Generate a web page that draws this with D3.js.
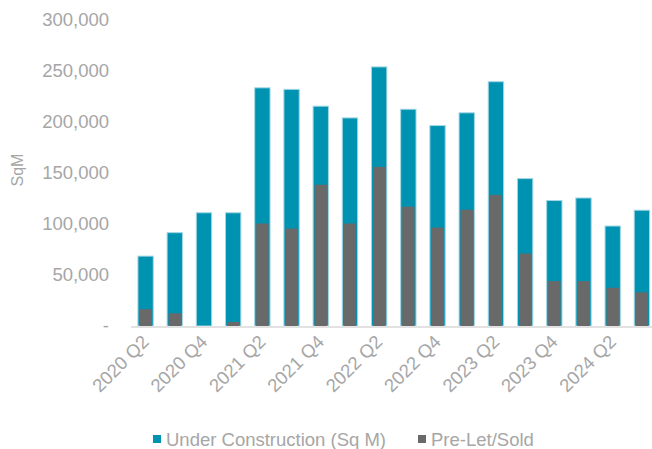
<!DOCTYPE html>
<html>
<head>
<meta charset="utf-8">
<script src="https://cdn.jsdelivr.net/npm/d3@7.8.5/dist/d3.min.js"></script>
<style>
  html, body { margin: 0; padding: 0; background: #fff; }
  svg { display: block; font-family: "Liberation Sans", Arial, sans-serif; }
</style>
</head>
<body>
<div id="chart"></div>
<script>
const quarters = [
  "2020 Q2", "2020 Q3", "2020 Q4", "2021 Q1", "2021 Q2", "2021 Q3", "2021 Q4",
  "2022 Q1", "2022 Q2", "2022 Q3", "2022 Q4", "2023 Q1", "2023 Q2", "2023 Q3",
  "2023 Q4", "2024 Q1", "2024 Q2", "2024 Q3"
]
const underConstruction = [
  69000, 92000, 111500, 111500, 234000, 232500, 216000, 204500, 254500,
  213000, 197000, 209500, 240000, 145000, 123500, 126000, 98500, 114000
]
const preLet = [
  16500, 12500, 0, 4000, 100500, 95500, 138500, 100500, 156000,
  117000, 96500, 114000, 128500, 71000, 44000, 44000, 37500, 33000
]
const yTicks = [0, 50000, 100000, 150000, 200000, 250000, 300000]
const shownLabels = ["2020 Q2", "2020 Q4", "2021 Q2", "2021 Q4", "2022 Q2", "2022 Q4", "2023 Q2", "2023 Q4", "2024 Q2"]
const seriesNames = ["Under Construction (Sq M)", "Pre-Let/Sold"]

const width = 652, height = 449
const colors = { uc: "#0093b1", ucEdge: "#a3d6e3", pre: "#696969", text: "#a6a6a6", axis: "#e2e2e2" }
const fontSize = 18.5

const svg = d3.select("#chart").append("svg")
  .attr("width", width)
  .attr("height", height)

const x = d3.scaleBand()
  .domain(quarters)
  .range([131, 656.5])
  .paddingInner(0.44)
  .paddingOuter(0.22)

const y = d3.scaleLinear()
  .domain([0, 300000])
  .range([326, 20])

// y tick labels
svg.append("g")
  .selectAll("text")
  .data(yTicks)
  .join("text")
    .attr("x", 109)
    .attr("y", d => y(d))
    .attr("dy", "0.35em")
    .attr("text-anchor", "end")
    .attr("fill", colors.text)
    .attr("font-size", fontSize)
    .text(d => d === 0 ? "-" : d3.format(",")(d))

svg.append("text")
  .attr("transform", `translate(23,170) rotate(-90)`)
  .attr("text-anchor", "middle")
  .attr("fill", colors.text)
  .attr("font-size", 16)
  .text("SqM")

// under construction bars
svg.append("g")
  .selectAll("rect")
  .data(quarters)
  .join("rect")
    .attr("x", d => x(d) + 0.5)
    .attr("y", (d, i) => y(underConstruction[i]) + 0.5)
    .attr("width", x.bandwidth() - 1)
    .attr("height", (d, i) => y(0) - y(underConstruction[i]) - 0.5)
    .attr("fill", colors.uc)
    .attr("stroke", colors.ucEdge)
    .attr("stroke-width", 1)

// pre-let bars, narrower, drawn over
const inset = 2
svg.append("g")
  .selectAll("rect")
  .data(quarters)
  .join("rect")
    .attr("x", d => x(d) + inset)
    .attr("y", (d, i) => y(preLet[i]))
    .attr("width", x.bandwidth() - inset * 2)
    .attr("height", (d, i) => y(0) - y(preLet[i]))
    .attr("fill", colors.pre)

// baseline
svg.append("line")
  .attr("x1", x.range()[0])
  .attr("x2", x.range()[1])
  .attr("y1", y(0) + 1)
  .attr("y2", y(0) + 1)
  .attr("stroke", colors.axis)
  .attr("stroke-width", 2)

// x labels
svg.append("g")
  .selectAll("text")
  .data(shownLabels)
  .join("text")
    .attr("transform", d => `translate(${x(d) + x.bandwidth() / 2 + 4.5},${y(0) + 17}) rotate(-45)`)
    .attr("text-anchor", "end")
    .attr("fill", colors.text)
    .attr("font-size", fontSize)
    .text(d => d)

// legend
const legend = svg.append("g").attr("transform", "translate(153,435)")
const legendX = [0, 265]
const legendColors = [colors.uc, colors.pre]
seriesNames.forEach((name, i) => {
  const g = legend.append("g").attr("transform", `translate(${legendX[i]},0)`)
  g.append("rect").attr("width", 8).attr("height", 8).attr("fill", legendColors[i])
  g.append("text")
    .attr("x", 13)
    .attr("y", 10.5)
    .attr("fill", colors.text)
    .attr("font-size", fontSize)
    .text(name)
})
</script>
</body>
</html>
